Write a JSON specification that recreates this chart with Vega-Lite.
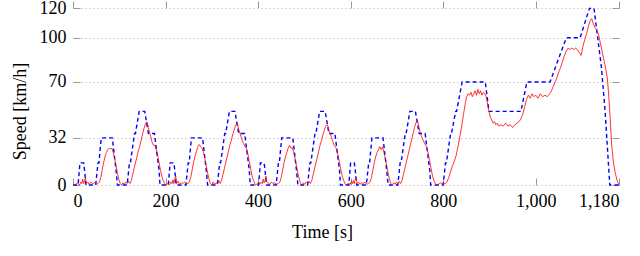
{
  "$schema": "https://vega.github.io/schema/vega-lite/v6.json",
  "width": 546,
  "height": 184,
  "autosize": {"type": "none"},
  "padding": {"left": 73, "top": 1, "right": 21, "bottom": 71},
  "background": "white",
  "config": {
    "view": {"stroke": null},
    "font": "Liberation Serif",
    "axis": {"domain": false, "tickColor": "#9a9a9a", "tickWidth": 1}
  },
  "datasets": {
    "ref": [
      {"t":0,"v":0},{"t":11,"v":0},{"t":15,"v":15},{"t":23,"v":15},{"t":25,"v":10},{"t":28,"v":0},{"t":49,"v":0},{"t":54,"v":15},{"t":56,"v":15},{"t":61,"v":32},{"t":85,"v":32},{"t":93,"v":10},{"t":96,"v":0},{"t":117,"v":0},{"t":122,"v":15},{"t":124,"v":15},{"t":133,"v":35},{"t":135,"v":35},{"t":143,"v":50},{"t":155,"v":50},{"t":163,"v":35},{"t":176,"v":35},{"t":186,"v":10},{"t":188,"v":0},{"t":195,"v":0},
      {"t":206,"v":0},{"t":210,"v":15},{"t":218,"v":15},{"t":220,"v":10},{"t":223,"v":0},{"t":244,"v":0},{"t":249,"v":15},{"t":251,"v":15},{"t":256,"v":32},{"t":280,"v":32},{"t":288,"v":10},{"t":291,"v":0},{"t":312,"v":0},{"t":317,"v":15},{"t":319,"v":15},{"t":328,"v":35},{"t":330,"v":35},{"t":338,"v":50},{"t":350,"v":50},{"t":358,"v":35},{"t":371,"v":35},{"t":381,"v":10},{"t":383,"v":0},{"t":390,"v":0},
      {"t":401,"v":0},{"t":405,"v":15},{"t":413,"v":15},{"t":415,"v":10},{"t":418,"v":0},{"t":439,"v":0},{"t":444,"v":15},{"t":446,"v":15},{"t":451,"v":32},{"t":475,"v":32},{"t":483,"v":10},{"t":486,"v":0},{"t":507,"v":0},{"t":512,"v":15},{"t":514,"v":15},{"t":523,"v":35},{"t":525,"v":35},{"t":533,"v":50},{"t":545,"v":50},{"t":553,"v":35},{"t":566,"v":35},{"t":576,"v":10},{"t":578,"v":0},{"t":585,"v":0},
      {"t":596,"v":0},{"t":600,"v":15},{"t":608,"v":15},{"t":610,"v":10},{"t":613,"v":0},{"t":634,"v":0},{"t":639,"v":15},{"t":641,"v":15},{"t":646,"v":32},{"t":670,"v":32},{"t":678,"v":10},{"t":681,"v":0},{"t":702,"v":0},{"t":707,"v":15},{"t":709,"v":15},{"t":718,"v":35},{"t":720,"v":35},{"t":728,"v":50},{"t":740,"v":50},{"t":748,"v":35},{"t":761,"v":35},{"t":771,"v":10},{"t":773,"v":0},{"t":780,"v":0},
      {"t":800,"v":0},{"t":805,"v":15},{"t":807,"v":15},{"t":816,"v":35},{"t":818,"v":35},{"t":827,"v":50},{"t":829,"v":50},{"t":841,"v":70},{"t":891,"v":70},{"t":899,"v":50},{"t":968,"v":50},{"t":981,"v":70},{"t":1031,"v":70},{"t":1066,"v":100},{"t":1096,"v":100},{"t":1116,"v":120},{"t":1126,"v":120},{"t":1142,"v":80},{"t":1150,"v":50},{"t":1160,"v":0},{"t":1180,"v":0}
    ],
    "meas": [
      {"t":0,"v":0},{"t":5,"v":0.5},{"t":10,"v":1},{"t":14,"v":0},{"t":17,"v":2},{"t":19,"v":1},{"t":21,"v":4},{"t":23,"v":1},{"t":25,"v":3},{"t":27,"v":5},{"t":29,"v":1},{"t":32,"v":2},{"t":35,"v":0.5},{"t":39,"v":2},{"t":42,"v":1},{"t":46,"v":1.5},{"t":50,"v":0.5},{"t":54,"v":1},{"t":57,"v":2},{"t":60,"v":5},{"t":63,"v":10},{"t":66,"v":15},{"t":69,"v":19},{"t":72,"v":22},{"t":75,"v":24},{"t":78,"v":25},{"t":81,"v":24.5},{"t":84,"v":25},{"t":87,"v":22},{"t":90,"v":18},{"t":93,"v":13},{"t":96,"v":8},{"t":99,"v":4},{"t":102,"v":1},{"t":105,"v":0},{"t":108,"v":1.5},{"t":111,"v":0.5},{"t":114,"v":2},{"t":117,"v":1},{"t":120,"v":2.5},{"t":123,"v":1},{"t":126,"v":3},{"t":129,"v":7},{"t":132,"v":11},{"t":135,"v":15},{"t":138,"v":19},{"t":141,"v":23},{"t":144,"v":26},{"t":147,"v":30},{"t":150,"v":34},{"t":153,"v":38},{"t":156,"v":41},{"t":159,"v":43},{"t":161,"v":42},{"t":163,"v":39},{"t":165,"v":36},{"t":168,"v":33},{"t":171,"v":29},{"t":174,"v":27},{"t":177,"v":27},{"t":180,"v":24},{"t":183,"v":20},{"t":186,"v":15},{"t":189,"v":10},{"t":192,"v":6},{"t":195,"v":3},{"t":198,"v":1},
      {"t":200,"v":0},{"t":205,"v":1},{"t":209,"v":0.5},{"t":212,"v":2},{"t":214,"v":1},{"t":216,"v":3.5},{"t":218,"v":1},{"t":220,"v":4},{"t":222,"v":6},{"t":224,"v":1},{"t":227,"v":2.5},{"t":230,"v":0.5},{"t":234,"v":1.5},{"t":237,"v":1},{"t":241,"v":2},{"t":245,"v":0.5},{"t":249,"v":1},{"t":252,"v":2.5},{"t":255,"v":6},{"t":258,"v":11},{"t":261,"v":16},{"t":264,"v":20},{"t":267,"v":23},{"t":270,"v":26},{"t":273,"v":27.5},{"t":276,"v":26},{"t":279,"v":25},{"t":282,"v":22},{"t":285,"v":18},{"t":288,"v":13},{"t":291,"v":8},{"t":294,"v":4},{"t":297,"v":1},{"t":300,"v":0},{"t":303,"v":2},{"t":306,"v":0.5},{"t":309,"v":1.5},{"t":312,"v":1},{"t":315,"v":3},{"t":318,"v":1},{"t":321,"v":3},{"t":324,"v":7},{"t":327,"v":11},{"t":330,"v":15},{"t":333,"v":19},{"t":336,"v":23},{"t":339,"v":27},{"t":342,"v":30},{"t":345,"v":34},{"t":348,"v":37},{"t":351,"v":40},{"t":354,"v":42},{"t":356,"v":41},{"t":358,"v":38},{"t":360,"v":36},{"t":363,"v":33},{"t":366,"v":30},{"t":369,"v":28},{"t":372,"v":26},{"t":375,"v":25},{"t":378,"v":21},{"t":381,"v":16},{"t":384,"v":11},{"t":387,"v":6},{"t":390,"v":3},{"t":393,"v":1},
      {"t":395,"v":0},{"t":400,"v":1.5},{"t":404,"v":0.5},{"t":407,"v":2},{"t":409,"v":1},{"t":411,"v":4},{"t":413,"v":1.5},{"t":415,"v":3},{"t":417,"v":6},{"t":419,"v":2},{"t":422,"v":1},{"t":425,"v":0.5},{"t":429,"v":2},{"t":432,"v":1},{"t":436,"v":1.5},{"t":440,"v":0.5},{"t":444,"v":1},{"t":447,"v":2},{"t":450,"v":5},{"t":453,"v":10},{"t":456,"v":15},{"t":459,"v":19},{"t":462,"v":22},{"t":465,"v":25},{"t":468,"v":27},{"t":471,"v":25},{"t":474,"v":25.5},{"t":477,"v":22},{"t":480,"v":18},{"t":483,"v":13},{"t":486,"v":8},{"t":489,"v":4},{"t":492,"v":1},{"t":495,"v":0},{"t":498,"v":1.5},{"t":501,"v":0.5},{"t":504,"v":2},{"t":507,"v":1},{"t":510,"v":2.5},{"t":513,"v":1},{"t":516,"v":3},{"t":519,"v":7},{"t":522,"v":11},{"t":525,"v":15},{"t":528,"v":19},{"t":531,"v":23},{"t":534,"v":27},{"t":537,"v":30},{"t":540,"v":34},{"t":543,"v":37},{"t":546,"v":40},{"t":549,"v":41},{"t":551,"v":40},{"t":553,"v":37},{"t":555,"v":35},{"t":558,"v":33},{"t":561,"v":30},{"t":564,"v":27},{"t":567,"v":26},{"t":570,"v":24},{"t":573,"v":20},{"t":576,"v":15},{"t":579,"v":10},{"t":582,"v":6},{"t":585,"v":3},{"t":588,"v":1},
      {"t":590,"v":0},{"t":595,"v":1},{"t":599,"v":0.5},{"t":602,"v":2.5},{"t":604,"v":1},{"t":606,"v":3},{"t":608,"v":1},{"t":610,"v":4},{"t":612,"v":5},{"t":614,"v":1},{"t":617,"v":2},{"t":620,"v":0.5},{"t":624,"v":1.5},{"t":627,"v":1},{"t":631,"v":2},{"t":635,"v":0.5},{"t":639,"v":1},{"t":642,"v":2},{"t":645,"v":5},{"t":648,"v":10},{"t":651,"v":15},{"t":654,"v":19},{"t":657,"v":22},{"t":660,"v":24},{"t":663,"v":26},{"t":666,"v":24},{"t":669,"v":26},{"t":672,"v":22},{"t":675,"v":18},{"t":678,"v":13},{"t":681,"v":8},{"t":684,"v":4},{"t":687,"v":1},{"t":690,"v":0},{"t":693,"v":1.5},{"t":696,"v":0.5},{"t":699,"v":2},{"t":702,"v":1},{"t":705,"v":2.5},{"t":708,"v":1},{"t":711,"v":3},{"t":714,"v":7},{"t":717,"v":11},{"t":720,"v":15},{"t":723,"v":19},{"t":726,"v":23},{"t":729,"v":27},{"t":732,"v":31},{"t":735,"v":35},{"t":738,"v":39},{"t":741,"v":42},{"t":744,"v":44},{"t":746,"v":42},{"t":748,"v":39},{"t":750,"v":36},{"t":753,"v":33},{"t":756,"v":31},{"t":759,"v":29},{"t":762,"v":27},{"t":765,"v":25},{"t":768,"v":21},{"t":771,"v":16},{"t":774,"v":11},{"t":777,"v":6},{"t":780,"v":3},{"t":783,"v":1},{"t":786,"v":0},
      {"t":790,"v":0.5},{"t":795,"v":1.5},{"t":800,"v":0.5},{"t":805,"v":1},{"t":808,"v":2},{"t":812,"v":5},{"t":816,"v":9},{"t":820,"v":13},{"t":824,"v":16},{"t":828,"v":20},{"t":832,"v":26},{"t":836,"v":33},{"t":840,"v":40},{"t":844,"v":48},{"t":848,"v":56},{"t":851,"v":60},{"t":854,"v":62},{"t":857,"v":61},{"t":860,"v":63},{"t":863,"v":60},{"t":866,"v":62},{"t":869,"v":64},{"t":872,"v":61},{"t":875,"v":65},{"t":878,"v":62},{"t":881,"v":64},{"t":884,"v":61},{"t":887,"v":63},{"t":890,"v":62},{"t":893,"v":60},{"t":896,"v":55},{"t":899,"v":50},{"t":902,"v":46},{"t":905,"v":44},{"t":908,"v":42},{"t":911,"v":43},{"t":914,"v":41},{"t":917,"v":42},{"t":920,"v":40},{"t":925,"v":41},{"t":930,"v":40},{"t":935,"v":42},{"t":940,"v":40},{"t":945,"v":41},{"t":950,"v":39},{"t":955,"v":41},{"t":960,"v":42},{"t":964,"v":43},{"t":968,"v":45},{"t":972,"v":48},{"t":976,"v":53},{"t":980,"v":58},{"t":984,"v":61},{"t":988,"v":59},{"t":992,"v":62},{"t":996,"v":60},{"t":1000,"v":61},{"t":1005,"v":59},{"t":1010,"v":62},{"t":1015,"v":60},{"t":1020,"v":61},{"t":1025,"v":60},{"t":1030,"v":62},{"t":1034,"v":64},{"t":1038,"v":67},{"t":1042,"v":70},{"t":1046,"v":73},{"t":1050,"v":77},{"t":1054,"v":80},{"t":1058,"v":84},{"t":1062,"v":88},{"t":1066,"v":91},{"t":1070,"v":93},{"t":1074,"v":92},{"t":1078,"v":93},{"t":1082,"v":92},{"t":1086,"v":93},{"t":1090,"v":92},{"t":1094,"v":90},{"t":1098,"v":88},{"t":1102,"v":94},{"t":1106,"v":99},{"t":1110,"v":103},{"t":1114,"v":108},{"t":1118,"v":112},{"t":1121,"v":113},{"t":1124,"v":110},{"t":1128,"v":107},{"t":1132,"v":105},{"t":1136,"v":102},{"t":1140,"v":96},{"t":1144,"v":90},{"t":1148,"v":84},{"t":1152,"v":78},{"t":1155,"v":72},{"t":1158,"v":60},{"t":1161,"v":45},{"t":1164,"v":28},{"t":1168,"v":15},{"t":1172,"v":8},{"t":1176,"v":3},{"t":1180,"v":0}
    ]
  },
  "layer": [
    {
      "data": {"name": "ref"},
      "mark": {"type": "line", "color": "#0000ff", "strokeDash": [4, 3], "strokeWidth": 1.4},
      "encoding": {
        "x": {"field": "t", "type": "quantitative", "scale": {"domain": [0, 1180], "nice": false, "zero": false},
              "axis": {"orient": "bottom", "values": [0, 200, 400, 600, 800, 1000, 1180], "format": ",d", "grid": false, "tickSize": -7, "labelPadding": 14, "labelFont": "Liberation Serif", "labelFontSize": 18, "labelColor": "black", "title": "Time [s]", "titleFont": "Liberation Serif", "titleFontSize": 18, "titleFontWeight": "normal", "titleColor": "black", "titlePadding": 13, "titleX": 249}},
        "y": {"field": "v", "type": "quantitative", "scale": {"domain": [0, 125], "nice": false},
              "axis": {"orient": "left", "values": [0, 32, 70, 100, 120], "grid": true, "gridDash": [1, 3], "gridColor": "#b0b0b0", "gridWidth": 1, "tickSize": -7, "labelPadding": 14, "labelFont": "Liberation Serif", "labelFontSize": 18, "labelColor": "black", "title": "Speed [km/h]", "titleFont": "Liberation Serif", "titleFontSize": 18, "titleFontWeight": "normal", "titleColor": "black", "titlePadding": 10, "titleY": 110}}
      }
    },
    {
      "data": {"name": "meas"},
      "mark": {"type": "line", "color": "#ff0000", "strokeWidth": 0.8},
      "encoding": {
        "x": {"field": "t", "type": "quantitative", "scale": {"domain": [0, 1180], "nice": false, "zero": false},
              "axis": {"orient": "top", "values": [0, 200, 400, 600, 800, 1000, 1180], "labels": false, "grid": false, "tickSize": -7, "title": null}},
        "y": {"field": "v", "type": "quantitative", "scale": {"domain": [0, 125], "nice": false},
              "axis": {"orient": "right", "values": [0, 32, 70, 100, 120], "labels": false, "grid": false, "tickSize": -7, "title": null}}
      }
    }
  ],
  "resolve": {"axis": {"x": "independent", "y": "independent"}}
}
